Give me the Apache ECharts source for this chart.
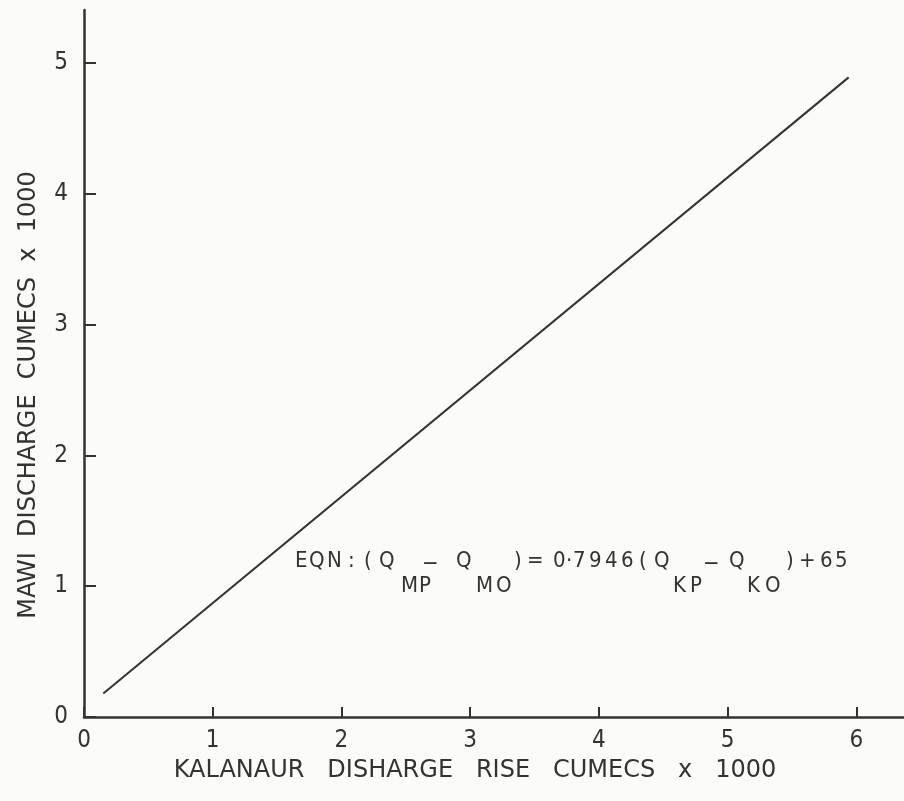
<!DOCTYPE html>
<html><head><meta charset="utf-8">
<script src="https://cdn.jsdelivr.net/npm/echarts@6/dist/echarts.min.js"></script>
<style>html,body{margin:0;padding:0;background:#fbfbf8;}#c{width:904px;height:801px;}</style>
</head><body><div id="c"></div>
<script>
const xTicks = [0, 1, 2, 3, 4, 5, 6];
const yTicks = [0, 1, 2, 3, 4, 5];
const lineX = [0.15, 5.94];
const lineY = [0.18, 4.89];
const xTitle = 'KALANAUR   DISHARGE   RISE   CUMECS   x   1000';
const yTitle = 'MAWI  DISCHARGE  CUMECS  x  1000';
// equation glyphs (hand-lettered spacing): [text, left x, 0 = main line, 1 = subscript]
const eqnParts = [
  ['E', 295, 0], ['Q', 309, 0], ['N', 327, 0], [':', 348, 0], ['(', 364, 0], ['Q', 379, 0],
  ['M', 401, 1], ['P', 419, 1], ['\u2212', 422, 0],
  ['Q', 456, 0], ['M', 476, 1], ['O', 496, 1], [')', 514, 0], ['=', 527, 0],
  ['0', 553, 0], ['\u00b7', 566, 0], ['7', 573, 0], ['9', 589, 0], ['4', 605, 0], ['6', 621, 0],
  ['(', 639, 0], ['Q', 654, 0], ['K', 673, 1], ['P', 690, 1], ['\u2212', 703, 0],
  ['Q', 729, 0], ['K', 747, 1], ['O', 765, 1], [')', 786, 0], ['+', 799, 0], ['6', 820, 0], ['5', 835, 0]
];

const ink = '#333333';
const font = 'DejaVu Sans Condensed';
const wide = 'DejaVu Sans';
const chart = echarts.init(document.getElementById('c'));
chart.setOption({
  backgroundColor: '#fbfbf8',
  animation: false,
  grid: { left: 84, top: 10, right: 0, bottom: 84, containLabel: false },
  xAxis: {
    type: 'value', min: 0, max: 6.37, interval: 1,
    axisLine: { show: true, lineStyle: { color: ink, width: 2.5 } },
    axisTick: { show: true, inside: true, length: 10, customValues: xTicks, lineStyle: { color: ink, width: 2 } },
    axisLabel: { color: ink, fontSize: 24, fontFamily: font, margin: 12, customValues: xTicks },
    splitLine: { show: false }
  },
  yAxis: {
    type: 'value', min: 0, max: 5.405, interval: 1,
    axisLine: { show: true, lineStyle: { color: ink, width: 2.5 } },
    axisTick: { show: true, inside: true, length: 12, customValues: yTicks, lineStyle: { color: ink, width: 2 } },
    axisLabel: { color: ink, fontSize: 24, fontFamily: font, margin: 16, customValues: yTicks },
    splitLine: { show: false }
  },
  series: [{
    type: 'line', symbol: 'none',
    data: lineX.map((x, i) => [x, lineY[i]]),
    lineStyle: { color: ink, width: 2 }
  }],
  graphic: [
    { type: 'text', x: 475, y: 771,
      style: { text: xTitle, fontSize: 24, fontFamily: wide, fill: ink, align: 'center', verticalAlign: 'middle' } },
    { type: 'text', x: 29, y: 395, rotation: Math.PI / 2,
      style: { text: yTitle, fontSize: 24, fontFamily: wide, fill: ink, align: 'center', verticalAlign: 'middle' } }
  ].concat(eqnParts.map(p => ({
    type: 'text', x: p[1], y: p[2] ? 575 : (p[0] === '\u2212' ? 553 : 550),
    style: { text: p[0], fontSize: 22, fontFamily: font, fill: ink, align: 'left', verticalAlign: 'top' }
  })))
});
</script></body></html>
